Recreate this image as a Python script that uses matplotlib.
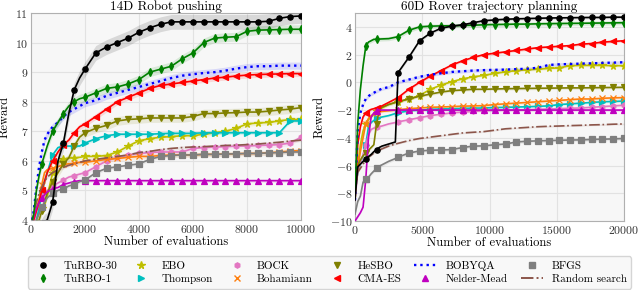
import matplotlib
matplotlib.use("Agg")
import matplotlib.pyplot as plt
from matplotlib.lines import Line2D
import numpy as np

plt.rcParams['font.family'] = ['cmr10', 'DejaVu Serif']
plt.rcParams['mathtext.fontset'] = 'cm'
plt.rcParams['axes.formatter.use_mathtext'] = True
plt.rcParams['axes.unicode_minus'] = True

# ---------------- data: 14D robot pushing ----------------
x_robot = [0, 100, 200, 300, 400, 500, 600, 800, 1000, 1200, 1400, 1600, 1800, 2000,
           2400, 2800, 3200, 3600, 4000, 4400, 4800, 5200, 5600, 6000, 6400, 6800,
           7200, 7600, 8000, 8400, 8800, 9200, 9600, 10000]

robot_turbo30 = [3.0, 3.2, 3.4, 3.6, 3.8, 3.95, 4.0, 4.6, 6.0, 6.6, 7.6, 8.4, 8.8, 9.1,
                 9.65, 9.85, 10.0, 10.15, 10.35, 10.5, 10.62, 10.7, 10.7, 10.7, 10.7, 10.7,
                 10.7, 10.7, 10.7, 10.7, 10.72, 10.82, 10.88, 10.9]
robot_turbo1 = [3.8, 4.2, 5.0, 5.5, 5.9, 6.2, 6.5, 7.0, 7.3, 7.6, 7.85, 8.0, 8.1, 8.15,
                8.3, 8.45, 8.5, 8.6, 8.75, 9.0, 9.1, 9.2, 9.45, 9.65, 10.0, 10.15,
                10.18, 10.2, 10.38, 10.42, 10.43, 10.44, 10.45, 10.45]
robot_ebo = [3.5, 3.7, 4.0, 4.3, 4.4, 4.5, 4.8, 5.6, 5.95, 6.05, 6.1, 6.1, 6.12, 6.15,
             6.15, 6.18, 6.3, 6.5, 6.68, 6.75, 6.8, 6.82, 6.85, 6.85, 6.9, 6.95,
             7.0, 7.1, 7.25, 7.28, 7.3, 7.35, 7.4, 7.4]
robot_thompson = [3.5, 3.8, 4.0, 4.4, 4.9, 5.3, 5.6, 6.2, 6.45, 6.5, 6.5, 6.5, 6.5, 6.6,
                  6.75, 6.85, 6.9, 6.9, 6.9, 6.9, 6.92, 6.93, 6.93, 6.93, 6.95, 6.95,
                  6.95, 6.95, 6.95, 6.95, 6.95, 6.95, 7.35, 7.35]
robot_bock = [3.5, 3.9, 4.3, 4.6, 4.8, 4.9, 5.0, 5.15, 5.25, 5.35, 5.45, 5.5, 5.55, 5.6,
              5.8, 6.0, 6.12, 6.2, 6.25, 6.28, 6.3, 6.3, 6.3, 6.42, 6.45, 6.47,
              6.48, 6.5, 6.5, 6.52, 6.53, 6.55, 6.6, 6.8]
robot_bohamiann = [3.8, 4.1, 4.4, 4.7, 5.2, 5.6, 5.7, 5.75, 5.8, 5.88, 5.9, 5.92, 5.95, 5.95,
                   6.0, 6.05, 6.08, 6.12, 6.15, 6.15, 6.18, 6.2, 6.2, 6.2, 6.22, 6.22,
                   6.23, 6.24, 6.25, 6.25, 6.27, 6.3, 6.33, 6.35]
robot_hesbo = [3.5, 3.7, 3.9, 4.0, 4.3, 4.6, 4.9, 5.3, 5.6, 5.9, 6.1, 6.5, 6.8, 6.95,
               7.1, 7.2, 7.35, 7.4, 7.42, 7.45, 7.45, 7.45, 7.45, 7.5, 7.6, 7.6,
               7.62, 7.63, 7.65, 7.65, 7.68, 7.72, 7.75, 7.8]
robot_cmaes = [3.6, 4.0, 4.3, 4.6, 5.0, 5.3, 5.6, 6.0, 6.3, 6.55, 6.7, 6.95, 7.15, 7.25,
               7.5, 7.75, 8.0, 8.15, 8.3, 8.45, 8.55, 8.6, 8.65, 8.7, 8.75, 8.8,
               8.83, 8.87, 8.9, 8.92, 8.93, 8.94, 8.95, 8.95]
robot_bobyqa = [3.8, 4.3, 5.1, 5.8, 6.3, 6.7, 6.9, 7.15, 7.3, 7.5, 7.65, 7.75, 7.85, 7.95,
                8.05, 8.2, 8.3, 8.4, 8.5, 8.6, 8.7, 8.8, 8.88, 8.93, 8.97, 9.0,
                9.05, 9.12, 9.17, 9.2, 9.2, 9.22, 9.22, 9.22]
robot_neldermead = [3.8, 4.1, 4.4, 4.6, 4.75, 4.85, 4.95, 5.05, 5.1, 5.2, 5.25, 5.3, 5.33, 5.33,
                    5.33, 5.33, 5.33, 5.33, 5.33, 5.33, 5.33, 5.33, 5.33, 5.33, 5.33, 5.33,
                    5.33, 5.33, 5.33, 5.33, 5.33, 5.33, 5.33, 5.33]
robot_bfgs = [3.5, 3.8, 4.0, 4.2, 4.45, 4.6, 4.75, 4.9, 5.0, 5.05, 5.15, 5.2, 5.3, 5.35,
              5.6, 5.75, 5.8, 5.85, 5.9, 6.05, 6.15, 6.18, 6.2, 6.2, 6.22, 6.22,
              6.23, 6.24, 6.25, 6.25, 6.27, 6.28, 6.3, 6.3]
robot_random = [3.8, 4.2, 4.6, 4.9, 5.1, 5.3, 5.45, 5.6, 5.7, 5.78, 5.85, 5.9, 5.95, 6.0,
                6.05, 6.1, 6.15, 6.2, 6.28, 6.32, 6.38, 6.42, 6.45, 6.47, 6.48, 6.5,
                6.52, 6.53, 6.55, 6.57, 6.6, 6.63, 6.67, 6.7]

# ---------------- data: 60D rover trajectory planning ----------------
x_rover = [0, 200, 400, 600, 800, 1000, 1200, 1400, 1600, 1800, 2000, 2500, 3000, 3200,
           4000, 4800, 5600, 6400, 7200, 8000, 8800, 9600, 10400, 11200, 12000, 12800,
           13600, 14400, 15200, 16000, 16800, 17600, 18400, 19200, 20000]

rover_turbo30 = [-8.5, -6.1, -5.9, -5.7, -5.5, -5.35, -5.2, -5.0, -4.85, -4.7, -4.6, -4.45, -4.3, 0.7,
                 1.8, 3.0, 3.55, 3.9, 4.05, 4.15, 4.3, 4.45, 4.5, 4.55, 4.58, 4.6,
                 4.62, 4.64, 4.65, 4.66, 4.67, 4.68, 4.68, 4.7, 4.7]
rover_turbo1 = [-8.0, -3.0, -0.5, 1.2, 2.6, 2.9, 3.0, 3.1, 3.1, 3.12, 3.13, 3.15, 3.25, 3.3,
                3.75, 4.0, 4.05, 4.07, 4.08, 4.1, 4.12, 4.15, 4.17, 4.18, 4.2, 4.2,
                4.22, 4.23, 4.24, 4.25, 4.26, 4.27, 4.28, 4.29, 4.3]
rover_ebo = [-8.5, -6.0, -4.5, -3.5, -3.0, -2.7, -2.5, -2.3, -2.1, -1.95, -1.85, -1.6, -1.45, -1.4,
             -1.2, -0.95, -0.5, -0.2, 0.05, 0.25, 0.4, 0.5, 0.65, 0.75, 0.85, 0.9,
             0.95, 1.0, 1.05, 1.2, 1.22, 1.22, 1.22, 1.2, 1.2]
rover_thompson = [-8.0, -6.5, -5.8, -5.3, -4.5, -3.2, -2.9, -2.75, -2.6, -2.55, -2.5, -2.4, -2.25, -2.2,
                  -2.05, -2.0, -1.95, -1.92, -1.9, -1.88, -1.86, -1.85, -1.82, -1.8, -1.78, -1.76,
                  -1.73, -1.7, -1.6, -1.55, -1.5, -1.45, -1.4, -1.38, -1.35]
rover_bock = [-8.5, -6.5, -5.8, -5.2, -4.5, -3.8, -3.4, -3.3, -3.25, -3.2, -3.15, -3.0, -2.9, -2.85,
              -2.7, -2.55, -2.4, -2.3, -2.2, -2.15, -2.1, -2.05, -2.02, -2.0, -2.0, -1.98,
              -1.95, -1.92, -1.9, -1.87, -1.85, -1.8, -1.75, -1.7, -1.65]
rover_bohamiann = [-8.0, -6.2, -5.0, -4.0, -3.0, -2.6, -2.4, -2.3, -2.2, -2.15, -2.1, -2.05, -2.0, -1.98,
                   -1.9, -1.85, -1.8, -1.78, -1.75, -1.72, -1.7, -1.68, -1.6, -1.55, -1.5, -1.45,
                   -1.4, -1.35, -1.3, -1.25, -1.2, -1.2, -1.15, -1.12, -1.1]
rover_hesbo = [-8.0, -6.0, -5.6, -5.3, -5.1, -4.9, -4.7, -4.5, -3.0, -2.0, -1.8, -1.6, -1.45, -1.4,
               -1.2, -1.0, -0.85, -0.7, -0.6, -0.55, -0.5, -0.5, -0.48, -0.46, -0.45, -0.44,
               -0.43, -0.42, -0.41, -0.4, -0.4, -0.39, -0.38, -0.37, -0.36]
rover_cmaes = [-8.0, -4.5, -3.2, -2.5, -2.2, -2.05, -1.95, -1.9, -1.85, -1.8, -1.7, -1.45, -1.2, -1.1,
               -0.5, 0.0, 0.45, 0.85, 1.25, 1.55, 1.8, 2.0, 2.1, 2.2, 2.3, 2.4,
               2.5, 2.55, 2.6, 2.65, 2.75, 2.8, 2.9, 2.95, 3.0]
rover_bobyqa = [-8.5, -3.5, -2.2, -1.6, -1.2, -1.0, -0.85, -0.75, -0.65, -0.55, -0.45, -0.35, -0.1, 0.0,
                0.2, 0.4, 0.55, 0.65, 0.75, 0.8, 0.85, 0.88, 0.9, 0.92, 0.95, 0.98,
                1.05, 1.25, 1.3, 1.32, 1.35, 1.37, 1.4, 1.42, 1.45]
rover_neldermead = [-10.0, -9.7, -9.4, -9.0, -7.0, -4.0, -2.5, -2.2, -2.05, -2.0, -2.0, -2.0, -2.0, -2.0,
                    -2.0, -2.0, -2.0, -2.0, -2.0, -2.0, -2.0, -2.0, -2.0, -2.0, -2.0, -2.0,
                    -2.0, -2.0, -2.0, -2.0, -2.0, -2.0, -2.0, -2.0, -2.0]
rover_bfgs = [-9.5, -8.6, -8.2, -7.2, -7.0, -6.85, -6.6, -6.4, -6.2, -6.05, -5.95, -5.7, -5.5, -5.4,
              -5.1, -4.95, -4.9, -4.88, -4.85, -4.7, -4.6, -4.58, -4.5, -4.45, -4.3, -4.25,
              -4.22, -4.2, -4.18, -4.16, -4.15, -4.12, -4.1, -4.08, -4.05]
rover_random = [-8.0, -6.5, -6.2, -5.9, -5.6, -5.4, -5.25, -5.1, -5.0, -4.9, -4.8, -4.6, -4.45, -4.4,
                -4.2, -4.05, -3.95, -3.85, -3.75, -3.65, -3.6, -3.55, -3.45, -3.35, -3.3, -3.25,
                -3.2, -3.17, -3.15, -3.12, -3.1, -3.07, -3.05, -3.02, -3.0]

methods = ['TuRBO-30', 'TuRBO-1', 'EBO', 'Thompson', 'BOCK', 'Bohamiann',
           'HeSBO', 'CMA-ES', 'BOBYQA', 'Nelder-Mead', 'BFGS', 'Random search']

robot_err = [0.25, 0.15, 0.08, 0.06, 0.08, 0.08, 0.15, 0.1, 0.12, 0.05, 0.06, 0.05]
rover_err = [0.1, 0.15, 0.1, 0.08, 0.1, 0.1, 0.1, 0.1, 0.12, 0.08, 0.12, 0.06]

robot_series = [robot_turbo30, robot_turbo1, robot_ebo, robot_thompson, robot_bock,
                robot_bohamiann, robot_hesbo, robot_cmaes, robot_bobyqa, robot_neldermead,
                robot_bfgs, robot_random]
rover_series = [rover_turbo30, rover_turbo1, rover_ebo, rover_thompson, rover_bock,
                rover_bohamiann, rover_hesbo, rover_cmaes, rover_bobyqa, rover_neldermead,
                rover_bfgs, rover_random]

styles = {
    'TuRBO-30':      dict(color='black', marker='o', ls='-'),
    'TuRBO-1':       dict(color='#008000', marker='d', ls='-'),
    'EBO':           dict(color='#bfbf00', marker='*', ls='-'),
    'Thompson':      dict(color='#00bfbf', marker='>', ls='-'),
    'BOCK':          dict(color='#e377c2', marker='h', ls='-'),
    'Bohamiann':     dict(color='#ff7f0e', marker='x', ls='-'),
    'HeSBO':         dict(color='#808000', marker='v', ls='-'),
    'CMA-ES':        dict(color='red', marker='<', ls='-'),
    'BOBYQA':        dict(color='blue', marker=None, ls=':'),
    'Nelder-Mead':   dict(color='#bf00bf', marker='^', ls='-'),
    'BFGS':          dict(color='#7f7f7f', marker='s', ls='-'),
    'Random search': dict(color='#8c564b', marker=None, ls='-.'),
}
zorders = {'TuRBO-30': 12, 'TuRBO-1': 11}

fig = plt.figure(figsize=(6.4, 2.9), dpi=100)
ax1 = fig.add_axes([31/640, 1-220/290, 270/640, 207/290])
ax2 = fig.add_axes([355/640, 1-221/290, 269/640, 208/290])


def draw(ax, xs, series, errs, step):
    xs = np.asarray(xs)
    me = [i for i, v in enumerate(xs) if v > 0 and v % step == 0]
    for name, ys, e in zip(methods, series, errs):
        st = styles[name]
        ys = np.asarray(ys)
        ax.fill_between(xs, ys - e, ys + e, color=st['color'], alpha=0.12, lw=0,
                        zorder=zorders.get(name, 5) - 0.5)
        kw = dict(color=st['color'], ls=st['ls'], lw=1.2, zorder=zorders.get(name, 5))
        if st['marker']:
            kw.update(marker=st['marker'], markersize=3.8 if st['marker'] != '*' else 5.5,
                      markevery=me, markeredgewidth=0.9)
        if st['ls'] == ':':
            kw['lw'] = 1.7
        ax.plot(xs, ys, **kw)
    ax.set_facecolor('#f7f7f7')
    ax.grid(True, color='#e2e2e2', lw=0.8)
    ax.set_axisbelow(True)
    for s in ax.spines.values():
        s.set_color('#b0b0b0')
    ax.tick_params(length=0, labelsize=8.5, colors='#333333', pad=2)
    ax.set_xlabel('Number of evaluations', fontsize=9, labelpad=1)
    ax.set_ylabel('Reward', fontsize=9, labelpad=3)


draw(ax1, x_robot, robot_series, robot_err, 400)
ax1.set_xlim(0, 10000)
ax1.set_ylim(4, 11)
ax1.set_xticks([0, 2000, 4000, 6000, 8000, 10000])
ax1.set_title('14D Robot pushing', fontsize=9.5, pad=2)

draw(ax2, x_rover, rover_series, rover_err, 800)
ax2.set_xlim(0, 20000)
ax2.set_ylim(-10, 5)
ax2.set_xticks([0, 5000, 10000, 15000, 20000])
ax2.set_yticks([-10, -8, -6, -4, -2, 0, 2, 4])
ax2.set_title('60D Rover trajectory planning', fontsize=9.5, pad=2)

handles = []
for name in methods:
    st = styles[name]
    if st['marker']:
        handles.append(Line2D([], [], color=st['color'], marker=st['marker'], ls='none',
                              markersize=3.8 if st['marker'] != '*' else 5.5))
    else:
        handles.append(Line2D([], [], color=st['color'], ls=st['ls'],
                              lw=1.7 if st['ls'] == ':' else 1.4))

leg = fig.legend(handles, methods, ncol=6, loc='center',
                 bbox_to_anchor=(22/640, 1/290, 615/640, 33/290), mode='expand',
                 fontsize=8, frameon=True, handlelength=2.0, handletextpad=0.8,
                 columnspacing=1.0, labelspacing=0.3, borderpad=0.4)
leg.get_frame().set_facecolor('#f7f7f7')
leg.get_frame().set_edgecolor('#cccccc')

fig.savefig('out.png', dpi=100)
